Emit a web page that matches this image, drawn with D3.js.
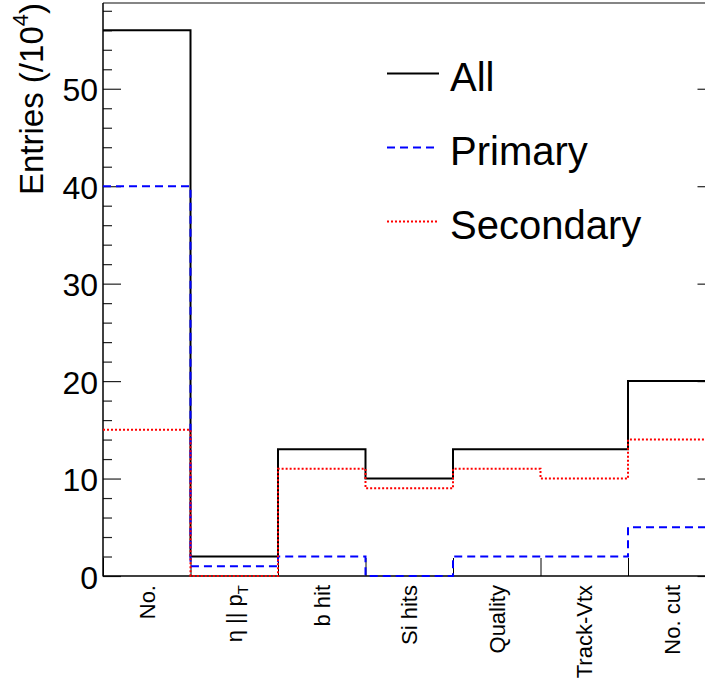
<!DOCTYPE html>
<html>
<head>
<meta charset="utf-8">
<script src="https://cdn.jsdelivr.net/npm/d3@7"></script>
<style>
  html, body { margin: 0; padding: 0; background: #fff; }
  svg { display: block; }
  text { font-family: "Liberation Sans", Arial, Helvetica, sans-serif; }
</style>
</head>
<body>
<div id="chart"></div>
<script>
const categories = ['No.', 'η || p_T', 'b hit', 'Si hits', 'Quality', 'Track-Vtx', 'No. cut'];
const allEntries = [56, 2, 13, 10, 13, 13, 20];
const primaryEntries = [40, 1, 2, 0, 2, 2, 5];
const secondaryEntries = [15, 0, 11, 9, 11, 10, 14];
const yMajorTicks = [0, 10, 20, 30, 40, 50];
const yMinorTicks = [2, 4, 6, 8, 12, 14, 16, 18, 22, 24, 26, 28, 32, 34, 36, 38, 42, 44, 46, 48, 52, 54, 56, 58];
const legendLabels = ['All', 'Primary', 'Secondary'];

const width = 705, height = 685;
// frame runs past the right edge of the window, as in the original
const frame = { left: 103, right: 715.5, top: 3, bottom: 576 };

const svg = d3.select('#chart')
  .append('svg')
  .attr('width', width)
  .attr('height', height);

const x = d3.scaleLinear()
  .domain([0, categories.length])
  .range([frame.left, frame.right]);

const y = d3.scaleLinear()
  .domain([0, d3.max(allEntries) * 1.05])
  .range([frame.bottom, frame.top]);

// Frame top (grey)
svg.append('line')
  .attr('x1', frame.left).attr('x2', frame.right)
  .attr('y1', frame.top).attr('y2', frame.top)
  .attr('stroke', '#858585').attr('stroke-width', 2);

// Left axis: major ticks + labels
svg.append('g')
  .attr('transform', `translate(${frame.left},0)`)
  .call(d3.axisLeft(y).tickValues(yMajorTicks).tickSize(-18).tickSizeOuter(0).tickPadding(5))
  .call(g => g.select('.domain').remove())
  .call(g => g.selectAll('.tick line').attr('stroke', '#222').attr('stroke-width', 1.2))
  .call(g => g.selectAll('.tick text')
    .attr('fill', '#000')
    .attr('dy', '0.38em')
    .style('font-size', '32px'));

// Left axis: minor ticks
svg.append('g')
  .attr('transform', `translate(${frame.left},0)`)
  .call(d3.axisLeft(y).tickValues(yMinorTicks).tickSize(-9).tickSizeOuter(0).tickFormat(''))
  .call(g => g.select('.domain').remove())
  .call(g => g.selectAll('.tick line').attr('stroke', '#222').attr('stroke-width', 1.2));

// Right axis ticks
svg.append('g')
  .attr('transform', `translate(${frame.right},0)`)
  .call(d3.axisRight(y).tickValues(yMajorTicks).tickSize(-18).tickSizeOuter(0).tickFormat(''))
  .call(g => g.select('.domain').remove())
  .call(g => g.selectAll('.tick line').attr('stroke', '#222').attr('stroke-width', 1.2));
svg.append('g')
  .attr('transform', `translate(${frame.right},0)`)
  .call(d3.axisRight(y).tickValues(yMinorTicks).tickSize(-9).tickSizeOuter(0).tickFormat(''))
  .call(g => g.select('.domain').remove())
  .call(g => g.selectAll('.tick line').attr('stroke', '#222').attr('stroke-width', 1.2));

// Bottom axis: ticks at bin edges
svg.append('g')
  .attr('transform', `translate(0,${frame.bottom})`)
  .call(d3.axisBottom(x).tickValues(d3.range(categories.length + 1)).tickSize(-18).tickSizeOuter(0).tickFormat(''))
  .call(g => g.select('.domain').remove())
  .call(g => g.selectAll('.tick line').attr('stroke', '#000').attr('stroke-width', 1));

// Axis lines
svg.append('line')
  .attr('x1', frame.left).attr('x2', frame.left)
  .attr('y1', frame.top).attr('y2', frame.bottom + 0.5)
  .attr('stroke', '#000').attr('stroke-width', 1.5);
svg.append('line')
  .attr('x1', frame.left).attr('x2', frame.right)
  .attr('y1', frame.bottom).attr('y2', frame.bottom)
  .attr('stroke', '#000').attr('stroke-width', 1.5);

// Bin labels (rotated)
const labels = svg.append('g')
  .selectAll('text')
  .data(categories)
  .enter()
  .append('text')
  .attr('transform', (d, i) => `translate(${x(i + 0.5) + 8},${frame.bottom + 9}) rotate(-90)`)
  .attr('text-anchor', 'end')
  .attr('fill', '#000')
  .style('font-size', '22px');

labels.each(function(d) {
  const t = d3.select(this);
  const parts = d.split('_');
  t.append('tspan').text(parts[0]);
  if (parts.length > 1) {
    t.append('tspan')
      .attr('dy', 6)
      .style('font-size', '15px')
      .text(parts[1]);
  }
});

// Y axis title
const yTitle = svg.append('text')
  .attr('transform', `translate(43,${frame.top}) rotate(-90)`)
  .attr('text-anchor', 'end')
  .attr('fill', '#000')
  .style('font-size', '33px');
yTitle.append('tspan').text('Entries (/10');
yTitle.append('tspan').attr('dy', -15).style('font-size', '22px').text('4');
yTitle.append('tspan').attr('dy', 15).text(')');

// Histograms
const stepLine = d3.line()
  .x(d => x(d[0]))
  .y(d => y(d[1]))
  .curve(d3.curveStepAfter);

function steps(values) {
  const pts = values.map((v, i) => [i, v]);
  pts.push([values.length, values[values.length - 1]]);
  pts.push([values.length, 0]);
  return pts;
}

const series = [
  { name: legendLabels[0], values: allEntries, color: '#000000', dash: null, width: 2 },
  { name: legendLabels[1], values: primaryEntries, color: '#0000ff', dash: '8,5', width: 2 },
  { name: legendLabels[2], values: secondaryEntries, color: '#ff0000', dash: '2,2', width: 2 }
];

series.forEach(s => {
  svg.append('path')
    .datum(steps(s.values))
    .attr('fill', 'none')
    .attr('stroke', s.color)
    .attr('stroke-width', s.width)
    .attr('stroke-dasharray', s.dash)
    .attr('d', stepLine);
});

// Legend
const legend = svg.append('g');
series.forEach((s, i) => {
  const cy = 73.5 + i * 74;
  legend.append('line')
    .attr('x1', 387).attr('x2', 439)
    .attr('y1', cy).attr('y2', cy)
    .attr('stroke', s.color)
    .attr('stroke-width', s.width)
    .attr('stroke-dasharray', s.dash);
  legend.append('text')
    .attr('x', 450)
    .attr('y', cy + 17.5)
    .attr('fill', '#000')
    .style('font-size', '40px')
    .text(s.name);
});
</script>
</body>
</html>
